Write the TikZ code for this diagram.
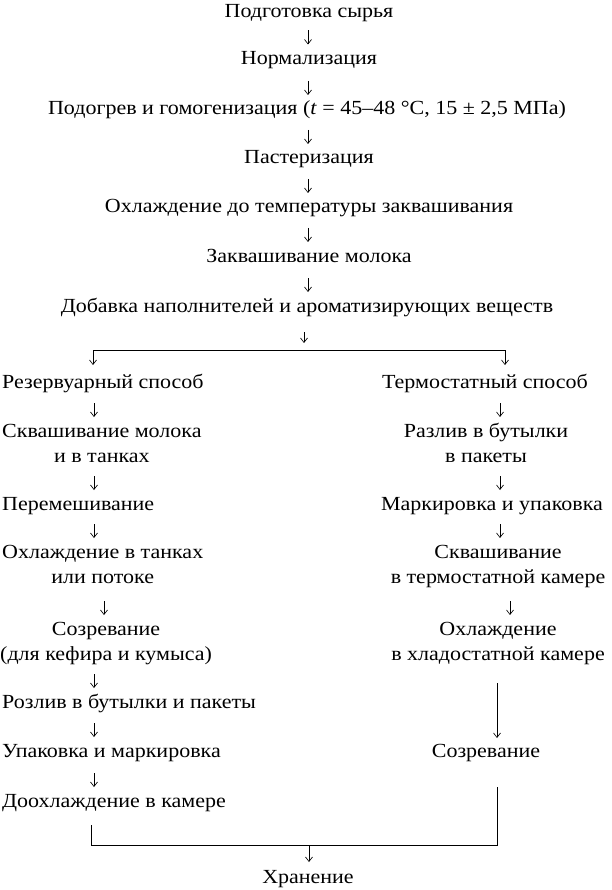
\documentclass[tikz,border=0pt]{standalone}
\usepackage{fontspec}
\setmainfont{Liberation Serif}[FakeStretch=1.1]
\usetikzlibrary{arrows.meta,calc}
\newcommand{\twoln}[1]{\begin{tabular}[t]{@{}c@{}}#1\end{tabular}}
\newcommand{\stp}[2]{\draw[arr] ($(#1.base -| #2)+(0,-34)$) -- ($(#1.base -| #2)+(0,-20)$);}
\begin{document}
\begin{tikzpicture}[x=1pt,y=-1pt,
  lbl/.style={inner sep=0pt, anchor=base, font=\fontsize{20}{25.5}\selectfont},
  lbll/.style={lbl, anchor=base west},
  ln/.style={line width=0.65pt},
  arr/.style={ln, -{Straight Barb[length=4.5pt,width=7pt]}}]
\useasboundingbox (0,0) rectangle (611,890);
% main column
\node[lbl] (n1) at (309,18) {Подготовка сырья};
\node[lbl] (n2) at (309,64.5) {Нормализация};
\node[lbl] (n3) at (307,115) {Подогрев и гомогенизация (\textit{t} = 45–48 °C, 15 ± 2,5 МПа)};
\node[lbl] (n4) at (309,164) {Пастеризация};
\node[lbl] (n5) at (309,213) {Охлаждение до температуры заквашивания};
\node[lbl] (n6) at (309,262) {Заквашивание молока};
\node[lbl] (n7) at (307,312) {Добавка наполнителей и ароматизирующих веществ};
% left column
\node[lbll] (l1) at (2,388) {Резервуарный способ};
\node[lbll] (l2) at (2,437) {\twoln{Сквашивание молока\\и в танках}};
\node[lbll] (l3) at (2,510) {Перемешивание};
\node[lbll] (l4) at (2,558) {\twoln{Охлаждение в танках\\или потоке}};
\node[lbll] (l5) at (0,635) {\twoln{Созревание\\(для кефира и кумыса)}};
\node[lbll] (l6) at (2,708) {Розлив в бутылки и пакеты};
\node[lbll] (l7) at (2,757) {Упаковка и маркировка};
\node[lbll] (l8) at (2,807) {Доохлаждение в камере};
% right column
\node[lbl] (r1) at (485,388) {Термостатный способ};
\node[lbl] (r2) at (486,437) {\twoln{Разлив в бутылки\\в пакеты}};
\node[lbl] (r3) at (492,510) {Маркировка и упаковка};
\node[lbl] (r4) at (498,558) {\twoln{Сквашивание\\в термостатной камере}};
\node[lbl] (r5) at (498,635) {\twoln{Охлаждение\\в хладостатной камере}};
\node[lbl] (r6) at (486,757) {Созревание};
\node[lbl] (h) at (308,883) {Хранение};
% arrow columns
\coordinate (cx) at (308,0);
\coordinate (bx) at (304,0);
\coordinate (lx) at (94,0);
\coordinate (lxb) at (104,0);
\coordinate (rx) at (500,0);
\coordinate (rxb) at (510,0);
\coordinate (jl) at (93,350);
\coordinate (jr) at (505,350);
\coordinate (kl) at (91,845);
\coordinate (kr) at (497,845);
\coordinate (kc) at (309,845);
% main arrows
\stp{n2}{cx}
\stp{n3}{cx}
\stp{n4}{cx}
\stp{n5}{cx}
\stp{n6}{cx}
\stp{n7}{cx}
\draw[arr] ($(n7.base -| bx)+(0,20)$) -- ($(n7.base -| bx)+(0,31)$);
\draw[ln] (jl) -- (jr);
\draw[arr] (jl) -- ($(l1.base -| jl)+(0,-23)$);
\draw[arr] (jr) -- ($(r1.base -| jr)+(0,-23)$);
% left arrows
\stp{l2}{lx}
\stp{l3}{lx}
\stp{l4}{lx}
\stp{l5}{lxb}
\stp{l6}{lx}
\stp{l7}{lx}
\stp{l8}{lx}
% right arrows
\stp{r2}{rx}
\stp{r3}{rx}
\stp{r4}{rx}
\stp{r5}{rxb}
\draw[arr] ($(r5.base -| kr)+(0,48)$) -- ($(r6.base -| kr)+(0,-19)$);
% join
\draw[ln] ($(l8.base -| kl)+(0,18)$) -- (kl) -- (kr) -- ($(r6.base -| kr)+(0,30)$);
\draw[arr] (kc) -- ($(h.base -| kc)+(0,-21)$);
\end{tikzpicture}
\end{document}
